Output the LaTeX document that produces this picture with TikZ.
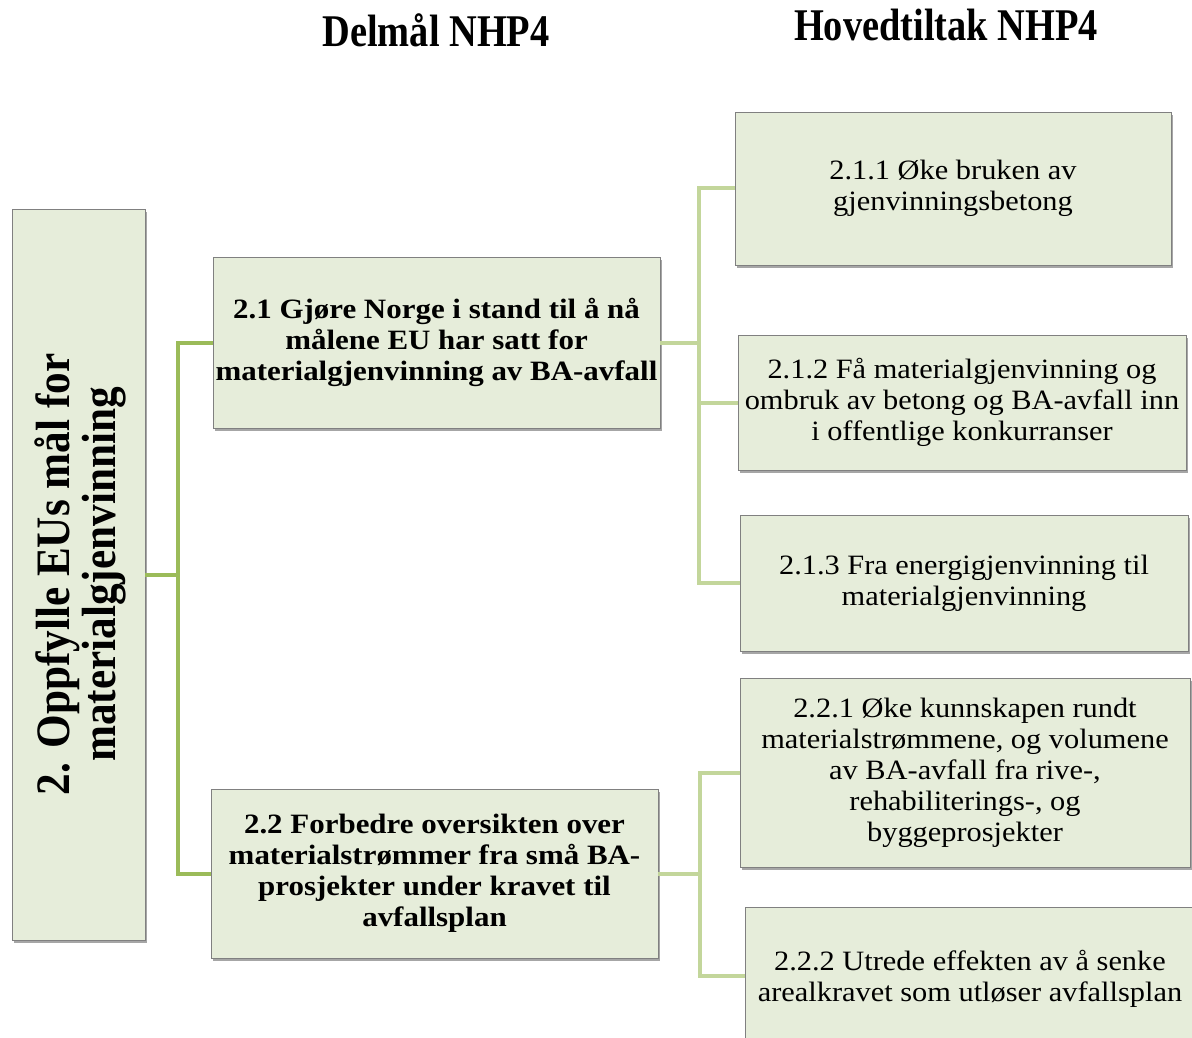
\documentclass[tikz,border=0pt]{standalone}
\usepackage{fontspec}
\setmainfont{Liberation Serif}
\newfontfamily\bodyfont[FakeStretch=1.085]{Liberation Serif}
\newfontfamily\boldbodyfont[FakeStretch=1.105]{Liberation Serif}
\newfontfamily\headfont[FakeStretch=0.847]{Liberation Serif}
\newfontfamily\sidefont[FakeStretch=0.9]{Liberation Serif}
\usetikzlibrary{shadows}
\definecolor{boxfill}{RGB}{230,237,218}
\definecolor{boxline}{RGB}{128,128,128}
\definecolor{darkgreen}{RGB}{155,187,89}
\definecolor{lightgreen}{RGB}{195,214,155}
\tikzset{
  box/.style={draw=boxline, line width=0.6pt, fill=boxfill, rectangle, align=center, inner sep=2pt,
    drop shadow={shadow xshift=1.6pt, shadow yshift=-2.2pt, fill=black, opacity=0.35}},
  bodytext/.style={font=\bodyfont\fontsize{21}{23.25}\selectfont},
  boldtext/.style={font=\boldbodyfont\bfseries\fontsize{21}{23.25}\selectfont},
  headtext/.style={font=\headfont\bfseries\fontsize{34}{38}\selectfont},
  conndark/.style={draw=darkgreen, line width=3pt},
  connlight/.style={draw=lightgreen, line width=3pt},
}
\begin{document}
\begin{tikzpicture}[x=0.75pt, y=-0.75pt]
\useasboundingbox (0,0) rectangle (1192,1038);
\clip (0,0) rectangle (1192,1038);

% headers
\node[headtext] (h1) at (436,30) {Delmål NHP4};
\node[headtext] (h2) at (946,25) {Hovedtiltak NHP4};

% main box
\node[box, minimum width=99.75pt, minimum height=548.25pt] (L) at (78.5,574.5) {};
\node[rotate=90, align=center, font=\sidefont\bfseries\fontsize{36}{34.5}\selectfont] (Lt) at (80,574.5) {2. Oppfylle EUs mål for\\materialgjenvinning};

% sub goals
\node[box, boldtext, minimum width=335.25pt, minimum height=128.25pt] (A) at (436.5,342.5)
  {2.1 Gjøre Norge i stand til å nå\\målene EU har satt for\\materialgjenvinning av BA-avfall};
\node[box, boldtext, minimum width=335.25pt, minimum height=126.75pt] (B) at (434.5,873.5)
  {2.2 Forbedre oversikten over\\materialstrømmer fra små BA-\\prosjekter under kravet til\\avfallsplan};

% measures
\node[box, bodytext, minimum width=327pt, minimum height=114.75pt] (a1) at (953,188.5)
  {2.1.1 Øke bruken av\\gjenvinningsbetong};
\node[box, bodytext, minimum width=336pt, minimum height=101.25pt] (a2) at (962,402.5)
  {2.1.2 Få materialgjenvinning og\\ombruk av betong og BA-avfall inn\\i offentlige konkurranser};
\node[box, bodytext, minimum width=336pt, minimum height=102pt] (a3) at (964,583)
  {2.1.3 Fra energigjenvinning til\\materialgjenvinning};
\node[box, bodytext, minimum width=337.5pt, minimum height=141.75pt] (b1) at (965,772.5)
  {2.2.1 Øke kunnskapen rundt\\materialstrømmene, og volumene\\av BA-avfall fra rive-,\\rehabiliterings-, og\\byggeprosjekter};
\node[box, bodytext, minimum width=337.5pt, minimum height=103.5pt, text depth=0pt] (b2) at (970,976)
  {2.2.2 Utrede effekten av å senke\\arealkravet som utløser avfallsplan};

% connectors
\coordinate (j1) at (178,574.5);
\coordinate (j2) at (699,342.5);
\coordinate (j3) at (700,873.5);
\draw[conndark] (L.east) -- (j1);
\draw[conndark] (A.west) -| (j1);
\draw[conndark] (B.west) -| (j1);
\draw[connlight] (A.east) -- (j2);
\draw[connlight] (a1.west) -| (j2);
\draw[connlight] (a2.west) -| (j2);
\draw[connlight] (a3.west) -| (j2);
\draw[connlight] (B.east) -- (j3);
\draw[connlight] (b1.west) -| (j3);
\draw[connlight] (b2.west) -| (j3);
\end{tikzpicture}
\end{document}
